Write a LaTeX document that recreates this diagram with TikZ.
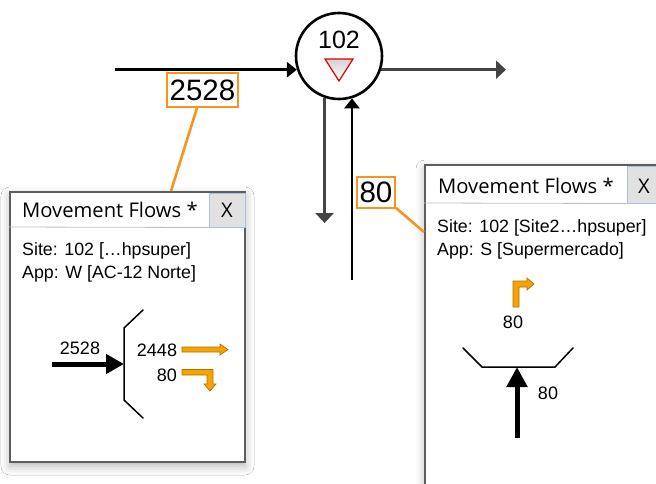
\documentclass[tikz,border=0pt]{standalone}
\usepackage{fontspec}
\setmainfont{Liberation Sans}
\newfontfamily\uifont{Open Sans}
\usetikzlibrary{arrows.meta,shadows.blur,calc}

\definecolor{leadorange}{HTML}{F7941D}
\definecolor{flowfill}{HTML}{F5A300}
\definecolor{flowedge}{HTML}{B57200}
\definecolor{darkflow}{HTML}{444444}
\definecolor{btnfill}{HTML}{E1E1E1}
\definecolor{btnedge}{HTML}{A9C1DF}
\definecolor{frame}{HTML}{5E5E5E}

\tikzset{
  px/.style={font=\fontsize{#1}{#1}\selectfont},
  mainflow/.style={line width=2.6pt, -{Triangle[length=10pt,width=15pt]}},
  greyflow/.style={line width=2.6pt, draw=darkflow, -{Triangle[length=10pt,width=18pt]}},
  countlabel/.style={draw=leadorange, line width=1.8pt, fill=white, inner sep=0pt,
                     px=29.5},
  leader/.style={draw=leadorange, line width=2.6pt},
  window/.style={draw=frame, line width=2pt, fill=white, inner sep=0pt,
                 blur shadow={shadow xshift=0pt, shadow yshift=-4pt,
                              shadow blur radius=9pt, shadow opacity=30}},
  closebtn/.style={draw=btnedge, line width=1pt, fill=btnfill, inner sep=0pt},
  wintitle/.style={anchor=base west, inner sep=0pt, font=\uifont\fontsize{20.2}{21}\selectfont},
  wintext/.style={anchor=base west, inner sep=0pt, px=17.8},
  flownum/.style={inner sep=0pt, px=18},
  stopline/.style={line width=1.5pt, line cap=round},
  fatarrow/.style={line width=5pt},
  turnarrow/.style={fill=flowfill, draw=flowedge, line width=0.7pt, line join=miter},
}

\begin{document}
\begin{tikzpicture}[x=1pt,y=-1pt]
\useasboundingbox (0,0) rectangle (656,483);
\clip (0,0) rectangle (656,483);
\fill[white] (0,0) rectangle (656,483);

% ---------- junction 102 ----------
\node[circle, draw, line width=2.6pt, minimum size=86pt, inner sep=0pt] (jn) at (339,56) {};
\node[px=25, inner sep=0pt] (jnum) at (339,40) {102};
\shade[top color=gray!35, bottom color=white, draw=red!85!black, line width=1.2pt]
  (325,59) -- (353,59) -- (339,81) -- cycle;

% approach arms
\coordinate (wIn)  at (115,70);
\coordinate (eOut) at (506,70);
\coordinate (sDn)  at (325,223);
\coordinate (sUp)  at (352,280);
\draw[mainflow] (jn.198.5 -| wIn) -- (jn.198.5);
\draw[greyflow] (jn.-18.5) -- (jn.-18.5 -| eOut);
\draw[greyflow] (jn.251.4) -- (jn.251.4 |- sDn);
\draw[mainflow] (jn.287.2 |- sUp) -- (jn.287.2);

% ---------- west approach popup ----------
\node[window, minimum width=235pt, minimum height=270pt] (wl) at (127.5,327) {};
\node[closebtn, minimum width=36pt, minimum height=34pt] (wlx) at (227,210) {};
\draw[black!25, line width=0.8pt] (wl.west |- 0,227) -- (wlx.south west);
\node[wintitle] (wlt) at (22,217) {Movement Flows *};
\node[inner sep=0pt, font=\uifont\fontsize{20.2}{21}\selectfont] (wlxt) at (wlx) {X};
\node[wintext] (wls) at (22,255) {Site: 102 […hpsuper]};
\node[wintext] (wla) at (22,278) {App: W [AC-12 Norte]};

% stop line and flows
\draw[stopline] (143,310) -- (124,328) -- (124,400) -- (143,418);
\coordinate (wlArrTail) at (52,364);
\coordinate (wlArrHead) at (124,364);
\draw[fatarrow, -{Triangle[length=18pt,width=19pt]}] (wlArrTail) -- (wlArrHead);
\node[flownum] (wlin) at (80,348) {2528};
\node[flownum] (wlthru) at (157,350) {2448};
\node[flownum] (wlright) at (167,375) {80};
\draw[turnarrow] (182,347) -- (220,347) -- (220,344) -- (228,349.5) -- (220,355)
  -- (220,352) -- (182,352) -- cycle;
\draw[turnarrow] (182,369.5) -- (213,369.5) -- (213,384) -- (216,384) -- (210,391)
  -- (204,384) -- (207,384) -- (207,375) -- (182,375) -- cycle;

% ---------- south approach popup ----------
\node[window, minimum width=275pt, minimum height=360pt] (wr) at (562.5,345) {};
\node[closebtn, minimum width=40pt, minimum height=37pt] (wrx) at (647,184.5) {};
\draw[black!25, line width=0.8pt] (wr.west |- 0,203) -- (wrx.south west);
\node[wintitle] (wrt) at (438,193) {Movement Flows *};
\node[inner sep=0pt, font=\uifont\fontsize{20.2}{21}\selectfont] (wrxt) at (644,186) {X};
\node[wintext] (wrs) at (437,232) {Site: 102 [Site2…hpsuper]};
\node[wintext] (wra) at (437,255) {App: S [Supermercado]};

\draw[turnarrow] (513,307) -- (513,281) -- (527,281) -- (527,278) -- (534,284)
  -- (527,290) -- (527,287) -- (519,287) -- (519,307) -- cycle;
\node[flownum] (wrright) at (513,322) {80};
\draw[stopline] (463,348) -- (482,367) -- (555,367) -- (573,348);
\coordinate (wrArrTail) at (517,438);
\coordinate (wrArrHead) at (517,367);
\draw[fatarrow, -{Triangle[length=20pt,width=20pt]}] (wrArrTail) -- (wrArrHead);
\node[flownum] (wrin) at (548,393) {80};

% ---------- count labels on the arms ----------
\node[countlabel, minimum width=71pt, minimum height=34pt] (c2528) at (202.5,90) {2528};
\node[countlabel, minimum width=38pt, minimum height=31pt] (c80) at (376,192.5) {80};
\draw[leader] ($(c2528.south)+(-5.5,0)$) -- (wl.north -| 171,0);
\draw[leader] ($(c80.south east)+(0,-1)$) -- (wr.west |- 0,232);
\end{tikzpicture}
\end{document}
